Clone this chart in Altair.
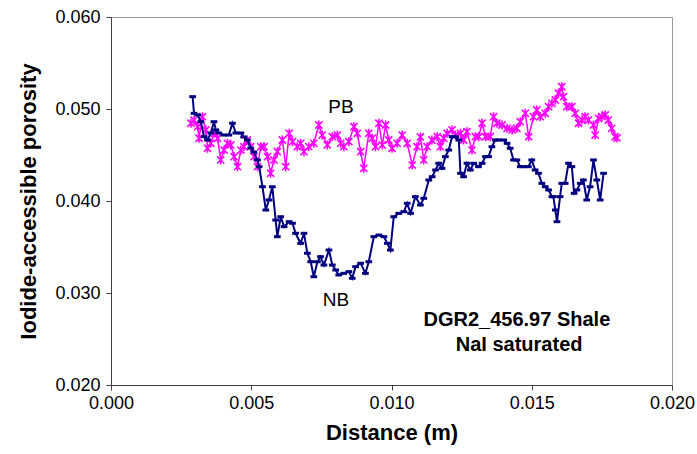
import altair as alt
import pandas as pd

# ---- NB series (navy) ----
nb_distance = [0.00291, 0.00296, 0.00309, 0.00320, 0.00332, 0.00344, 0.00356, 0.00367, 0.00374, 0.00384,
               0.00402, 0.00420, 0.00433, 0.00445, 0.00463, 0.00473, 0.00486, 0.00498, 0.00509, 0.00522,
               0.00528, 0.00540, 0.00552, 0.00563, 0.00575, 0.00587, 0.00593, 0.00605, 0.00617, 0.00635,
               0.00647, 0.00658, 0.00676, 0.00688, 0.00700, 0.00712, 0.00723, 0.00736, 0.00747, 0.00759,
               0.00777, 0.00789, 0.00801, 0.00812, 0.00830, 0.00848, 0.00860, 0.00872, 0.00890, 0.00907,
               0.00919, 0.00937, 0.00955, 0.00973, 0.00985, 0.00996, 0.01008, 0.01026, 0.01044, 0.01056,
               0.01068, 0.01085, 0.01103, 0.01115, 0.01133, 0.01145, 0.01157, 0.01168, 0.01180, 0.01192,
               0.01204, 0.01216, 0.01228, 0.01240, 0.01246, 0.01257, 0.01269, 0.01281, 0.01293, 0.01310,
               0.01323, 0.01335, 0.01346, 0.01358, 0.01370, 0.01382, 0.01400, 0.01412, 0.01423, 0.01435,
               0.01447, 0.01459, 0.01471, 0.01488, 0.01500, 0.01512, 0.01524, 0.01536, 0.01548, 0.01560,
               0.01572, 0.01577, 0.01584, 0.01590, 0.01601, 0.01607, 0.01619, 0.01631, 0.01643, 0.01651,
               0.01661, 0.01673, 0.01684, 0.01696, 0.01708, 0.01720, 0.01732, 0.01744, 0.01756]
nb_porosity = [0.05134, 0.04953, 0.04935, 0.04862, 0.04699, 0.04663, 0.04739, 0.04862, 0.04772, 0.04739,
               0.04717, 0.04717, 0.04845, 0.04739, 0.04739, 0.04696, 0.04663, 0.04576, 0.04533, 0.04446,
               0.04373, 0.04155, 0.03902, 0.04011, 0.04155, 0.03793, 0.03612, 0.03829, 0.03721, 0.03775,
               0.03758, 0.03649, 0.03540, 0.03649, 0.03432, 0.03340, 0.03177, 0.03340, 0.03395, 0.03304,
               0.03467, 0.03304, 0.03250, 0.03196, 0.03214, 0.03232, 0.03160, 0.03286, 0.03323, 0.03214,
               0.03340, 0.03612, 0.03630, 0.03612, 0.03540, 0.03467, 0.03829, 0.03866, 0.03884, 0.03975,
               0.03866, 0.04047, 0.03957, 0.04029, 0.04228, 0.04264, 0.04337, 0.04410, 0.04355, 0.04482,
               0.04554, 0.04699, 0.04699, 0.04663, 0.04301, 0.04264, 0.04410, 0.04337, 0.04410, 0.04373,
               0.04410, 0.04482, 0.04482, 0.04590, 0.04663, 0.04663, 0.04663, 0.04627, 0.04573, 0.04446,
               0.04446, 0.04373, 0.04373, 0.04373, 0.04446, 0.04337, 0.04301, 0.04192, 0.04155, 0.04120,
               0.04047, 0.04047, 0.03902, 0.03775, 0.04047, 0.04192, 0.04192, 0.04410, 0.04373, 0.04084,
               0.04120, 0.04192, 0.04228, 0.04011, 0.04155, 0.04446, 0.04228, 0.04011, 0.04301]

# ---- PB series (magenta) ----
pb_distance = [0.00285, 0.00296, 0.00309, 0.00314, 0.00326, 0.00338, 0.00344, 0.00356, 0.00368, 0.00380,
               0.00391, 0.00403, 0.00415, 0.00427, 0.00439, 0.00451, 0.00463, 0.00474, 0.00486, 0.00498,
               0.00510, 0.00522, 0.00534, 0.00546, 0.00558, 0.00569, 0.00581, 0.00593, 0.00611, 0.00623,
               0.00635, 0.00647, 0.00664, 0.00676, 0.00688, 0.00705, 0.00723, 0.00741, 0.00753, 0.00771,
               0.00789, 0.00807, 0.00819, 0.00830, 0.00848, 0.00866, 0.00878, 0.00890, 0.00901, 0.00919,
               0.00931, 0.00943, 0.00955, 0.00967, 0.00979, 0.00990, 0.01002, 0.01020, 0.01038, 0.01056,
               0.01074, 0.01091, 0.01103, 0.01115, 0.01127, 0.01144, 0.01163, 0.01174, 0.01186, 0.01198,
               0.01216, 0.01228, 0.01246, 0.01257, 0.01269, 0.01287, 0.01299, 0.01311, 0.01323, 0.01335,
               0.01352, 0.01364, 0.01376, 0.01394, 0.01412, 0.01430, 0.01447, 0.01459, 0.01477, 0.01489,
               0.01506, 0.01518, 0.01530, 0.01548, 0.01560, 0.01572, 0.01584, 0.01595, 0.01607, 0.01613,
               0.01625, 0.01643, 0.01655, 0.01667, 0.01679, 0.01690, 0.01702, 0.01720, 0.01726, 0.01738,
               0.01750, 0.01762, 0.01773, 0.01785, 0.01797, 0.01804]
pb_porosity = [0.04845, 0.04880, 0.04808, 0.04682, 0.04916, 0.04772, 0.04573, 0.04627, 0.04736, 0.04682,
               0.04446, 0.04554, 0.04627, 0.04609, 0.04482, 0.04373, 0.04554, 0.04590, 0.04663, 0.04590,
               0.04482, 0.04373, 0.04590, 0.04590, 0.04482, 0.04301, 0.04446, 0.04536, 0.04663, 0.04373,
               0.04736, 0.04645, 0.04590, 0.04627, 0.04536, 0.04590, 0.04627, 0.04826, 0.04717, 0.04609,
               0.04699, 0.04717, 0.04627, 0.04590, 0.04645, 0.04808, 0.04736, 0.04536, 0.04355, 0.04736,
               0.04682, 0.04590, 0.04845, 0.04609, 0.04826, 0.04663, 0.04573, 0.04627, 0.04717, 0.04627,
               0.04391, 0.04590, 0.04696, 0.04446, 0.04590, 0.04663, 0.04699, 0.04590, 0.04682, 0.04736,
               0.04772, 0.04717, 0.04736, 0.04663, 0.04753, 0.04554, 0.04699, 0.04699, 0.04845, 0.04699,
               0.04699, 0.04916, 0.04845, 0.04826, 0.04790, 0.04772, 0.04790, 0.04862, 0.04953, 0.04699,
               0.04916, 0.04989, 0.04916, 0.04953, 0.05025, 0.05062, 0.05098, 0.05171, 0.05242, 0.05134,
               0.05025, 0.05025, 0.04953, 0.04845, 0.04880, 0.04916, 0.04880, 0.04826, 0.04717, 0.04899,
               0.04916, 0.04935, 0.04880, 0.04790, 0.04699, 0.04685]

# ---- in-plot labels ----
series_labels = ["PB", "NB"]
series_label_x = [0.00820, 0.00802]
series_label_y = [0.05022, 0.02924]

note_lines = ["DGR2_456.97 Shale", "NaI saturated"]
note_x = [0.01447, 0.01455]
note_y = [0.02707, 0.02435]

x_ticks = [0.000, 0.005, 0.010, 0.015, 0.020]
y_ticks = [0.020, 0.030, 0.040, 0.050, 0.060]

nb = pd.DataFrame({"d": nb_distance, "p": nb_porosity})
pb = pd.DataFrame({"d": pb_distance, "p": pb_porosity})
lab = pd.DataFrame({"d": series_label_x, "p": series_label_y, "t": series_labels})
note = pd.DataFrame({"d": note_x, "p": note_y, "t": note_lines})

FONT = "Liberation Sans"

x_enc = alt.X("d:Q",
              scale=alt.Scale(domain=[0, 0.02], nice=False, zero=False),
              axis=alt.Axis(values=x_ticks, format=".3f", title="Distance (m)",
                            tickSize=5, labelPadding=4, labelFlush=False, labelOverlap=False,
                            titleY=54, titleBaseline="alphabetic"))
y_enc = alt.Y("p:Q",
              scale=alt.Scale(domain=[0.02, 0.06], nice=False, zero=False),
              axis=alt.Axis(values=y_ticks, format=".3f", title="Iodide-accessible porosity",
                            tickSize=5, labelPadding=6, labelOverlap=False,
                            titleX=-76, titleY=184, titleAngle=270,
                            titleAlign="center", titleBaseline="alphabetic"))

DASH = "M-1,0L1,0"
STAR = "M-0.8,-0.8L0.8,0.8M-0.8,0.8L0.8,-0.8M0,-1L0,1"

pb_line = alt.Chart(pb).mark_line(color="#FF00FF", strokeWidth=1.5).encode(x=x_enc, y=y_enc)
pb_pts = alt.Chart(pb).mark_point(shape=STAR, color="#FF00FF", size=80, strokeWidth=1.6,
                                  filled=False, opacity=1).encode(x=x_enc, y=y_enc)
nb_line = alt.Chart(nb).mark_line(color="#000080", strokeWidth=2).encode(x=x_enc, y=y_enc)
nb_pts = alt.Chart(nb).mark_point(shape=DASH, color="#000080", size=45, strokeWidth=3,
                                  filled=False, opacity=1).encode(x=x_enc, y=y_enc)

labels = alt.Chart(lab).mark_text(font=FONT, fontSize=19, color="black",
                                  align="center", baseline="middle").encode(
    x=x_enc, y=y_enc, text="t:N")
notes = alt.Chart(note).mark_text(font=FONT, fontSize=20, fontWeight="bold", color="black",
                                  align="center", baseline="middle").encode(
    x=x_enc, y=y_enc, text="t:N")

chart = alt.layer(pb_line, pb_pts, nb_line, nb_pts, labels, notes).properties(
    width=561, height=368,
    autosize=alt.AutoSizeParams(type="none"),
    padding={"left": 111, "top": 17, "right": 25, "bottom": 69},
    background="white",
).configure_view(
    stroke="#999999", strokeWidth=1
).configure_axis(
    grid=False,
    domainColor="#404040", tickColor="#404040", domainWidth=1, tickWidth=1,
    labelFont=FONT, labelFontSize=18, labelColor="black",
    titleFont=FONT, titleFontSize=22, titleFontWeight="bold", titleColor="black",
)

chart.save("out.html", embed_options={"renderer": "svg", "actions": False})
